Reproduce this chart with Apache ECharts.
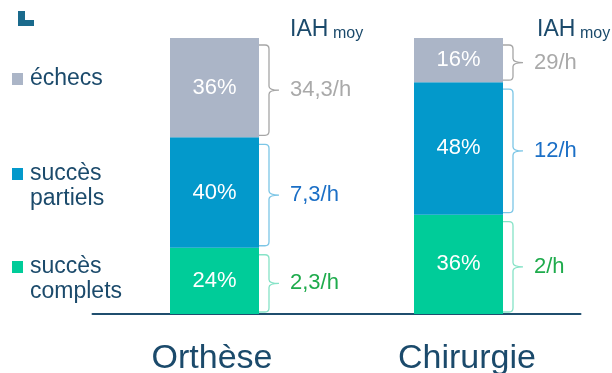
<!DOCTYPE html>
<html>
<head>
<meta charset="utf-8">
<style>
  html, body { margin: 0; padding: 0; background: #ffffff; }
  #chart { width: 612px; height: 373px; }
</style>
<script src="https://cdn.jsdelivr.net/npm/echarts@6/dist/echarts.min.js"></script>
</head>
<body>
<div id="chart"></div>
<script>
// Treatment groups
const categories = ['Orthèse', 'Chirurgie'];

// Share of patients per outcome (%), bottom to top of each stack
const complets = [24, 36];
const partiels = [40, 48];
const echecs = [36, 16];

// Mean AHI (events per hour) for each outcome group
const iahComplets = [2.3, 2];
const iahPartiels = [7.3, 12];
const iahEchecs = [34.3, 29];

const seriesNames = ['succès\ncomplets', 'succès\npartiels', 'échecs'];
const barColors = ['#00cc99', '#0399cb', '#abb5c7'];
const braceColors = ['#86e3c7', '#7cc6e6', '#a6a6a6'];
const iahColors = ['#1eab4c', '#1b6fc6', '#a9a9a9'];

const FONT = '"Liberation Sans", Arial, sans-serif';
const NAVY = '#1b4a6b';
const BAR_WIDTH = 89;

// Segments for the braces: [category index, stack start, stack end, mean AHI, outcome index]
const stacks = [complets, partiels, echecs];
const iahs = [iahComplets, iahPartiels, iahEchecs];
const braceData = [];
categories.forEach((c, i) => {
  let acc = 0;
  stacks.forEach((arr, s) => {
    braceData.push([i, acc, acc + arr[i], iahs[s][i], s]);
    acc += arr[i];
  });
});

function fmtIah(v) {
  return String(v).replace('.', ',') + '/h';
}

function renderBrace(params, api) {
  const cat = api.value(0);
  const s = api.value(4);
  const center = api.coord([cat, 0])[0];
  const x0 = center + BAR_WIDTH / 2;
  const xv = x0 + 10;
  const xt = xv + 10;
  const y0 = api.coord([cat, api.value(2)])[1] + 7;
  const y1 = api.coord([cat, api.value(1)])[1] - 2;
  const ym = (y0 + y1) / 2;
  const r = 4;
  const path = [
    'M', x0, y0,
    'L', xv - r, y0,
    'Q', xv, y0, xv, y0 + r,
    'L', xv, ym - r,
    'Q', xv, ym, xt, ym,
    'Q', xv, ym, xv, ym + r,
    'L', xv, y1 - r,
    'Q', xv, y1, xv - r, y1,
    'L', x0, y1
  ].join(' ');
  return {
    type: 'group',
    children: [
      {
        type: 'path',
        shape: { pathData: path },
        style: { fill: 'none', stroke: braceColors[s], lineWidth: 1.3 }
      },
      {
        type: 'text',
        x: xt + 11,
        y: ym,
        style: {
          text: fmtIah(api.value(3)),
          fill: iahColors[s],
          font: '22px ' + FONT,
          align: 'left',
          verticalAlign: 'middle'
        }
      }
    ]
  };
}

// Legend drawn as squares with wrapped labels
const legendRows = [79, 174, 267];
const legendGraphics = [];
[2, 1, 0].forEach((s, k) => {
  const yMid = legendRows[k];
  legendGraphics.push({
    type: 'rect',
    shape: { x: 12, y: yMid - 6, width: 11, height: 12 },
    style: { fill: barColors[s] }
  });
  legendGraphics.push({
    type: 'text',
    x: 30,
    y: yMid - 12.5,
    style: {
      text: seriesNames[s],
      fill: NAVY,
      font: '23px ' + FONT,
      lineHeight: 25,
      verticalAlign: 'top',
      align: 'left'
    }
  });
});

// Column headers above the AHI values
function header(x) {
  return [
    { type: 'text', x: x, y: 30, style: { text: 'IAH', fill: NAVY, font: '23px ' + FONT, verticalAlign: 'middle' } },
    { type: 'text', x: x + 43, y: 33.5, style: { text: 'moy', fill: NAVY, font: '16px ' + FONT, verticalAlign: 'middle' } }
  ];
}

const option = {
  animation: false,
  backgroundColor: '#ffffff',
  grid: {
    left: 92.5, width: 488, top: 38, bottom: 59,
    containLabel: false,
    outerBoundsMode: 'none'
  },
  xAxis: {
    type: 'category',
    data: categories,
    axisLine: { lineStyle: { color: '#1f4e6e', width: 2 } },
    axisTick: { show: false },
    axisLabel: {
      margin: 28,
      formatter: (v, idx) => (idx === 0 ? '{a|' + v + '}' : '{b|' + v + '}'),
      rich: {
        a: { fontSize: 34, color: NAVY, fontFamily: FONT, padding: [0, 5, 0, 0] },
        b: { fontSize: 34, color: NAVY, fontFamily: FONT, padding: [0, 0, 0, 17] }
      }
    },
    splitLine: { show: false }
  },
  yAxis: {
    type: 'value',
    min: 0,
    max: 100,
    show: false
  },
  graphic: [
    {
      type: 'polygon',
      shape: { points: [[18, 11], [25, 11], [25, 20], [34, 20], [34, 26], [18, 26]] },
      style: { fill: '#1a6a8c' }
    },
    ...legendGraphics,
    ...header(290),
    ...header(537)
  ],
  series: [
    ...stacks.map((arr, s) => ({
      name: seriesNames[s],
      type: 'bar',
      stack: 'total',
      barWidth: BAR_WIDTH,
      data: arr,
      itemStyle: { color: barColors[s] },
      label: {
        show: true,
        position: 'inside',
        formatter: '{c}%',
        color: '#ffffff',
        fontSize: 22,
        fontFamily: FONT
      },
      emphasis: { disabled: true }
    })),
    {
      type: 'custom',
      renderItem: renderBrace,
      data: braceData,
      silent: true,
      z: 5
    }
  ]
};

const chart = echarts.init(document.getElementById('chart'), null, { renderer: 'canvas' });
chart.setOption(option);
</script>
</body>
</html>
